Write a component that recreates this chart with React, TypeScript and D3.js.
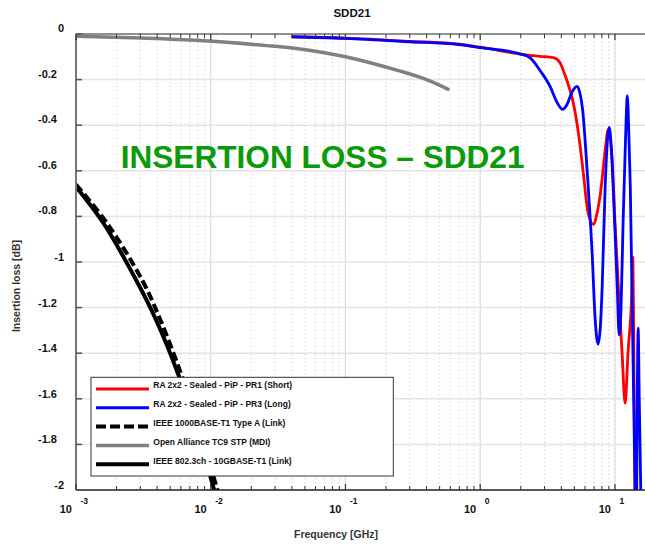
import React from "react";
import * as d3 from "d3";

const W = 645;
const H = 546;

// Axis ticks
const xDecades = [-3, -2, -1, 0, 1];
const xMinorMult = [2, 3, 4, 5, 6, 7, 8, 9];
const yTicks = [0, -0.2, -0.4, -0.6, -0.8, -1, -1.2, -1.4, -1.6, -1.8, -2];
const yTickLabels = ["0", "-0.2", "-0.4", "-0.6", "-0.8", "-1", "-1.2", "-1.4", "-1.6", "-1.8", "-2"];

// Series: [frequency GHz, insertion loss dB]
const redPR1: [number, number][] = [
  [0.04, -0.012], [0.1, -0.018], [0.3, -0.032], [0.7, -0.045], [1.0, -0.058],
  [2.0, -0.088], [2.8, -0.098], [3.5, -0.104], [3.9, -0.125], [4.2, -0.17],
  [4.6, -0.24], [4.9, -0.30], [5.4, -0.45], [5.8, -0.6], [6.3, -0.78],
  [6.9, -0.835], [7.4, -0.78], [7.8, -0.70], [8.5, -0.50], [8.9, -0.42],
  [9.53, -0.55], [10.0, -0.82], [10.6, -1.11], [11.3, -1.40], [11.9, -1.62],
  [12.5, -1.40], [13.4, -1.11], [13.6, -0.98], [13.85, -1.5], [14.1, -2.0], [14.3, -2.3],
];
const bluePR3: [number, number][] = [
  [0.04, -0.012], [0.1, -0.019], [0.3, -0.034], [0.7, -0.047], [1.0, -0.06],
  [2.0, -0.088], [2.35, -0.105], [2.78, -0.16], [3.3, -0.23], [3.72, -0.30],
  [4.06, -0.33], [4.4, -0.31], [4.8, -0.255], [5.24, -0.23], [5.5, -0.26],
  [5.75, -0.33], [6.22, -0.6], [6.77, -0.96], [7.13, -1.25], [7.5, -1.36],
  [7.8, -1.28], [8.04, -1.11], [8.46, -0.67], [9.06, -0.41], [9.4, -0.5],
  [9.7, -0.67], [10.4, -1.11], [10.75, -1.32], [11.1, -1.2], [11.5, -0.82],
  [12.1, -0.38], [12.35, -0.27], [12.7, -0.45], [13.0, -0.67], [13.6, -1.40],
  [14.1, -2.0], [14.35, -2.4], [14.6, -1.7], [14.87, -1.29], [15.15, -1.6],
  [15.6, -2.05], [16.0, -2.5],
];
const ieee1000T1: [number, number][] = [
  [0.001, -0.66], [0.0017, -0.83], [0.0031, -1.08], [0.0042, -1.25],
  [0.0061, -1.5], [0.0084, -1.75], [0.0112, -2.0], [0.0125, -2.1],
];
const openAllianceTC9: [number, number][] = [
  [0.001, -0.01], [0.003, -0.018], [0.0083, -0.029], [0.026, -0.051],
  [0.046, -0.066], [0.1, -0.1], [0.255, -0.163], [0.4, -0.2], [0.59, -0.245],
];
const ieee8023ch: [number, number][] = [
  [0.001, -0.67], [0.0016, -0.83], [0.0028, -1.08], [0.0039, -1.25],
  [0.0058, -1.5], [0.008, -1.75], [0.0106, -2.0], [0.0118, -2.1],
];

const legendLabels = [
  "RA 2x2 - Sealed - PiP - PR1 (Short)",
  "RA 2x2 - Sealed - PiP - PR3 (Long)",
  "IEEE 1000BASE-T1 Type A (Link)",
  "Open Alliance TC9 STP (MDI)",
  "IEEE 802.3ch - 10GBASE-T1 (Link)",
];

const FONT = "'Liberation Sans', Arial, Helvetica, sans-serif";

export default function App() {
  const left = 76, top = 34, bottom = 490, rightEdge = 645;
  const x = d3.scaleLog().domain([0.001, 20]).range([left, 655.5]);
  const y = d3.scaleLinear().domain([0, -2]).range([top, bottom]);
  const lineMono = d3.line<[number, number]>()
    .x((d) => x(d[0]))
    .y((d) => y(d[1]))
    .curve(d3.curveMonotoneX);
  const lineSmooth = d3.line<[number, number]>()
    .x((d) => x(d[0]))
    .y((d) => y(d[1]))
    .curve(d3.curveCatmullRom.alpha(0.5));

  const minorTicks: number[] = [];
  xDecades.forEach((e) => {
    xMinorMult.forEach((m) => {
      const f = m * Math.pow(10, e);
      if (x(f) < rightEdge) minorTicks.push(f);
    });
  });
  const majorTicks = xDecades.map((e) => Math.pow(10, e));

  const series = [
    { data: openAllianceTC9, color: "#808080", width: 3.5, dash: null as string | null, smooth: true },
    { data: ieee8023ch, color: "#000", width: 4, dash: null, smooth: true },
    { data: ieee1000T1, color: "#000", width: 4, dash: "9,4", smooth: true },
    { data: redPR1, color: "#ff0000", width: 2.8, dash: null, smooth: false },
    { data: bluePR3, color: "#0000ff", width: 2.8, dash: null, smooth: false },
  ];

  const legendStyles = [
    { color: "#ff0000", width: 3, dash: null as string | null },
    { color: "#0000ff", width: 3, dash: null },
    { color: "#000", width: 4, dash: "10,4" },
    { color: "#808080", width: 3.5, dash: null },
    { color: "#000", width: 4, dash: null },
  ];

  return (
    <svg width={W} height={H} style={{ position: "absolute", left: 0, top: 0, background: "#fff" }}
      fontFamily={FONT}>
      <defs>
        <clipPath id="plotclip">
          <rect x={left} y={top} width={rightEdge - left} height={bottom - top} />
        </clipPath>
      </defs>
      <rect x={0} y={0} width={W} height={H} fill="#fff" />
      {/* grid */}
      {minorTicks.map((f, i) => (
        <line key={"mg" + i} x1={x(f)} x2={x(f)} y1={top} y2={bottom}
          stroke="#c4c4c4" strokeWidth={1} strokeDasharray="1,3" />
      ))}
      {majorTicks.map((f, i) => (
        <line key={"Mg" + i} x1={x(f)} x2={x(f)} y1={top} y2={bottom}
          stroke="#dcdcdc" strokeWidth={1.3} />
      ))}
      {yTicks.slice(1, -1).map((v, i) => (
        <line key={"hg" + i} x1={left} x2={rightEdge} y1={y(v)} y2={y(v)}
          stroke="#e4e4e4" strokeWidth={1.5} />
      ))}
      {/* big label */}
      <text x={120.7} y={168} fontSize={31.6} fontWeight="bold" fill="#0a9a0a">
        INSERTION LOSS – SDD21
      </text>
      {/* curves */}
      <g clipPath="url(#plotclip)">
        {series.map((s, i) => (
          <path key={"s" + i} d={(s.smooth ? lineSmooth : lineMono)(s.data) || ""} fill="none" stroke={s.color}
            strokeWidth={s.width} strokeDasharray={s.dash || undefined} strokeLinejoin="round" />
        ))}
      </g>
      {/* axes */}
      <line x1={left} x2={rightEdge} y1={top} y2={top} stroke="#222" strokeWidth={1.2} />
      <line x1={left} x2={rightEdge} y1={bottom} y2={bottom} stroke="#222" strokeWidth={1.5} />
      <line x1={left} x2={left} y1={top} y2={bottom} stroke="#777" strokeWidth={2} />
      {minorTicks.map((f, i) => (
        <g key={"mt" + i}>
          <line x1={x(f)} x2={x(f)} y1={top} y2={top + 4} stroke="#333" strokeWidth={1} />
          <line x1={x(f)} x2={x(f)} y1={bottom} y2={bottom - 4} stroke="#333" strokeWidth={1} />
        </g>
      ))}
      {majorTicks.map((f, i) => (
        <g key={"Mt" + i}>
          <line x1={x(f)} x2={x(f)} y1={top} y2={top + 6} stroke="#333" strokeWidth={1.2} />
          <line x1={x(f)} x2={x(f)} y1={bottom} y2={bottom - 6} stroke="#333" strokeWidth={1.2} />
        </g>
      ))}
      {yTicks.map((v, i) => (
        <line key={"yt" + i} x1={left} x2={left + 6} y1={y(v)} y2={y(v)} stroke="#555" strokeWidth={1.5} />
      ))}
      {/* y tick labels */}
      {yTicks.map((v, i) => (
        <text key={"yl" + i} x={yTickLabels[i].includes(".") ? 57 : 64} y={y(v) - 1 - (i < 5 ? 1 : 0)}
          textAnchor="end" fontSize={11} fontWeight="bold" fill="#111">
          {yTickLabels[i]}
        </text>
      ))}
      {/* x tick labels */}
      {xDecades.map((e, i) => (
        <g key={"xl" + i}>
          <text x={x(Math.pow(10, e)) - 4} y={513} textAnchor="end" fontSize={11} fontWeight="bold" fill="#111">10</text>
          <text x={x(Math.pow(10, e)) + 4.5} y={504} textAnchor="start" fontSize={8.5} fontWeight="bold" fill="#111">{String(e)}</text>
        </g>
      ))}
      {/* titles */}
      <text x={352} y={17} textAnchor="middle" fontSize={11.5} fontWeight="bold" fill="#111">SDD21</text>
      <text x={336} y={538} textAnchor="middle" fontSize={10.5} fontWeight="bold" fill="#333">Frequency [GHz]</text>
      <text transform="translate(20,286) rotate(-90)" textAnchor="middle" fontSize={10.5} fontWeight="bold" fill="#333">
        Insertion loss [dB]
      </text>
      {/* legend */}
      <rect x={91} y={377.3} width={302.3} height={98.7} fill="#fff" stroke="#333" strokeWidth={1} />
      {legendLabels.map((lab, i) => {
        const ly = 389 + i * 18.8;
        const st = legendStyles[i];
        return (
          <g key={"lg" + i}>
            <line x1={96} x2={149} y1={ly} y2={ly} stroke={st.color} strokeWidth={st.width}
              strokeDasharray={st.dash || undefined} />
            <text x={153.3} y={ly - 0.7} fontSize={8.5} fontWeight="bold" fill="#111">{lab}</text>
          </g>
        );
      })}
    </svg>
  );
}
